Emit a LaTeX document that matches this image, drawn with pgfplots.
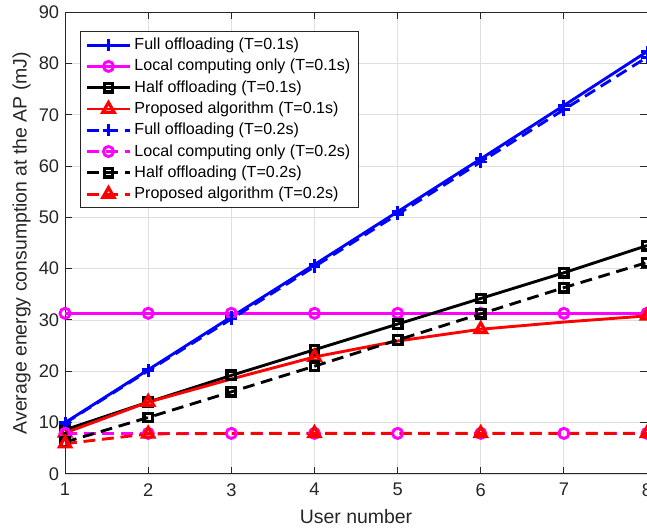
\documentclass[border=0pt]{standalone}
\usepackage{pgfplots}
\pgfplotsset{compat=1.18}
\usepackage{fontspec}
\setmainfont{Liberation Sans}

\definecolor{mblue}{RGB}{0,0,255}
\definecolor{mmag}{RGB}{255,0,255}
\definecolor{mred}{RGB}{255,0,0}
\definecolor{gridgray}{RGB}{222,222,222}
\definecolor{axgray}{RGB}{38,38,38}

\tikzset{
  mdash/.style={dash pattern=on 7pt off 4pt},
  lw/.style={line width=1.7pt},
  mk/.style={solid, fill=white, line width=1.7pt},
}

\begin{document}
\begin{tikzpicture}[trim axis right]
\begin{axis}[
  width=344pt, height=273pt, scale only axis,
  xmin=1, xmax=8, ymin=0, ymax=90,
  xtick={1,2,3,4,5,6,7,8},
  ytick={0,10,20,30,40,50,60,70,80,90},
  grid=major,
  major grid style={color=gridgray, line width=0.5pt},
  axis line style={color=axgray, line width=0.6pt},
  tick style={color=axgray, line width=0.6pt},
  tick align=inside,
  major tick length=4pt,
  /pgf/number format/assume math mode=true,
  ticklabel style={font=\fontsize{10.8}{12}\selectfont, color=axgray},
  xticklabel style={yshift=-2pt},
  label style={font=\fontsize{11.5}{13}\selectfont, color=axgray},
  xlabel={User number},
  ylabel={Average energy consumption at the AP (mJ)},
  xlabel style={yshift=-1pt},
  ylabel style={yshift=-2pt},
  legend cell align=left,
  legend style={
    at={(0,1)}, anchor=north west, xshift=9pt, yshift=-11pt,
    font=\fontsize{9.5}{11}\selectfont,
    draw=axgray, line width=0.6pt, fill=white,
    row sep=0.2pt, inner xsep=3pt, inner ysep=2pt,
  },
  legend image code/.code={
    \draw[mark repeat=2,mark phase=2,#1]
      plot coordinates {(0cm,0cm) (0.44cm,0cm) (0.88cm,0cm)};
  },
]

% T = 0.1 s (solid)
\addplot[color=mblue, lw, mark=+, mark size=3.5pt, mark options={solid, line width=1.7pt}]
  coordinates {(1,10.0) (2,20.3) (3,30.6) (4,40.8) (5,51.1) (6,61.4) (7,71.8) (8,82.3)};
\addlegendentry{Full offloading (T=0.1s)}

\addplot[color=mmag, lw, mark=o, mark size=3pt, mark options={mk}]
  coordinates {(1,31.3) (2,31.3) (3,31.3) (4,31.3) (5,31.3) (6,31.3) (7,31.3) (8,31.3)};
\addlegendentry{Local computing only (T=0.1s)}

\addplot[color=black, lw, mark=square, mark size=2.5pt, mark options={mk, line width=2pt}]
  coordinates {(1,8.6) (2,14.0) (3,19.2) (4,24.2) (5,29.2) (6,34.2) (7,39.2) (8,44.5)};
\addlegendentry{Half offloading (T=0.1s)}

\addplot[color=mred, lw, mark=triangle, mark size=3.8pt, mark indices={1,2,4,6,8},
  mark options={mk, line width=1.9pt},
  legend image post style={mark indices={2}}]
  coordinates {(1,8.0) (2,14.0) (3,18.5) (4,22.8) (5,25.9) (6,28.2) (7,29.6) (8,30.8)};
\addlegendentry{Proposed algorithm (T=0.1s)}

% T = 0.2 s (dashed)
\addplot[color=mblue, lw, mdash, mark=+, mark size=3.5pt, mark options={solid, line width=1.7pt}]
  coordinates {(1,9.9) (2,20.1) (3,30.2) (4,40.4) (5,50.6) (6,60.8) (7,71.0) (8,81.2)};
\addlegendentry{Full offloading (T=0.2s)}

\addplot[color=mmag, lw, mdash, mark=o, mark size=3pt, mark options={mk}]
  coordinates {(1,7.9) (2,7.9) (3,7.9) (4,7.9) (5,7.9) (6,7.9) (7,7.9) (8,7.9)};
\addlegendentry{Local computing only (T=0.2s)}

\addplot[color=black, lw, mdash, mark=square, mark size=2.5pt, mark options={mk, line width=2pt}]
  coordinates {(1,6.2) (2,11.0) (3,16.0) (4,21.0) (5,26.1) (6,31.2) (7,36.3) (8,41.2)};
\addlegendentry{Half offloading (T=0.2s)}

\addplot[color=mred, lw, mdash, mark=triangle, mark size=3.8pt, mark indices={1,2,4,6,8},
  mark options={mk, line width=1.9pt},
  legend image post style={mark indices={2}}]
  coordinates {(1,5.9) (2,7.8) (3,7.9) (4,7.9) (5,7.9) (6,7.9) (7,7.9) (8,7.9)};
\addlegendentry{Proposed algorithm (T=0.2s)}

\end{axis}
% a little blank margin to the left of the y label
\path ([xshift=-4pt]current bounding box.west);
\end{tikzpicture}
\end{document}
